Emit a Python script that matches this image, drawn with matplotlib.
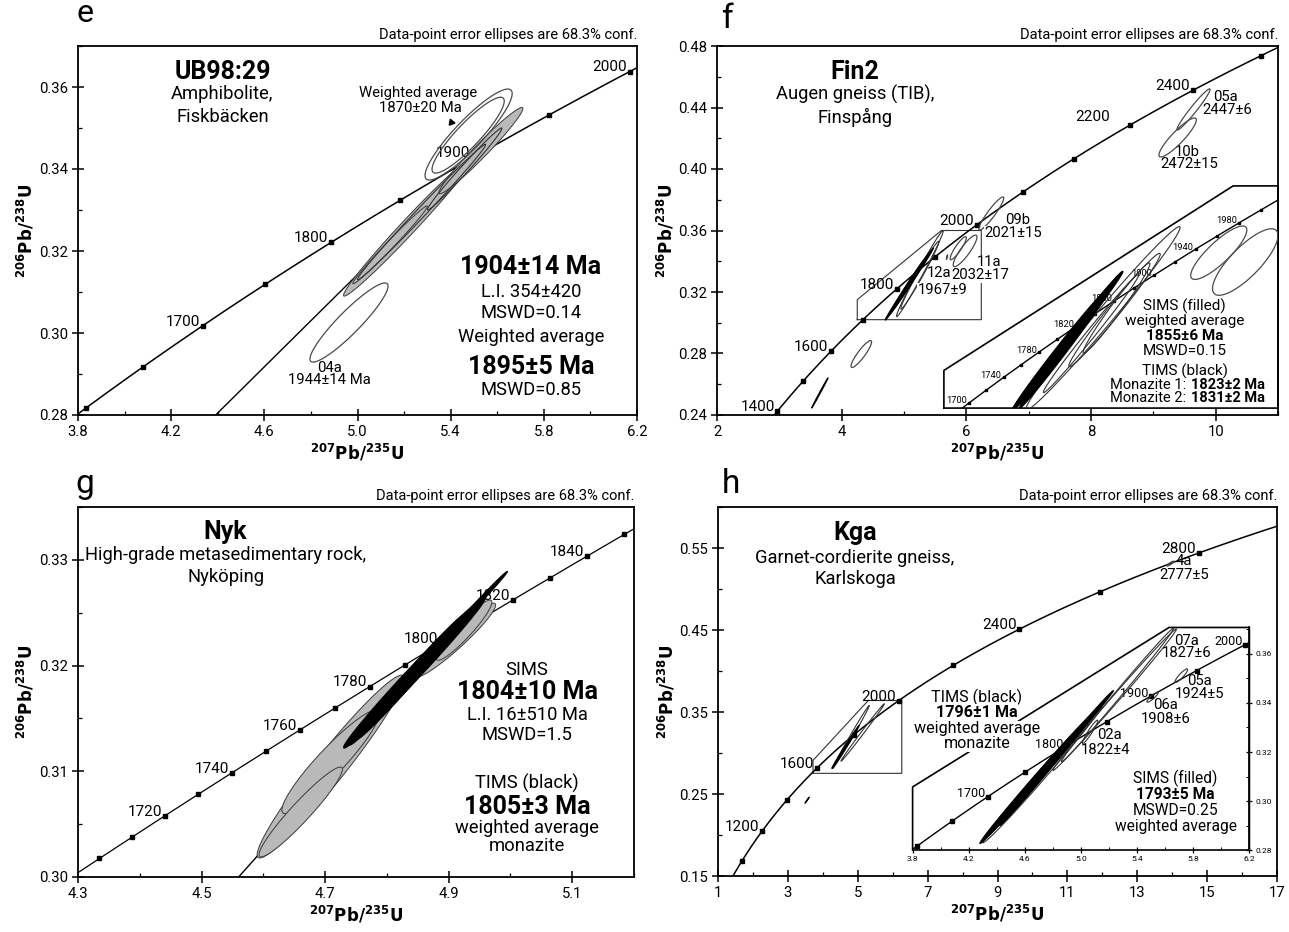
import numpy as np
import matplotlib
matplotlib.use('Agg')
import matplotlib.pyplot as plt
from matplotlib.ticker import MultipleLocator

plt.rcParams['font.family'] = ['Roboto', 'DejaVu Sans']
plt.rcParams['mathtext.fontset'] = 'dejavusans'

# decay constants (1/yr)
L235 = 9.8485e-10
L238 = 1.55125e-10

# ---- panel e : UB98:29 ----
e_marks = [1600, 1650, 1700, 1750, 1800, 1850, 1900, 1950, 2000]
e_labels = [1700, 1800, 1900, 2000]
e_grey = [(4.94, 5.50, 0.309, 0.343, 0.988), (5.35, 5.71, 0.334, 0.355, 0.975),
          (4.98, 5.30, 0.312, 0.331, 0.99)]
e_thin = [(5.00, 5.55, 0.313, 0.346, 0.995), (5.30, 5.62, 0.330, 0.350, 0.99)]
e_open = [(4.796, 5.131, 0.2929, 0.3122, 0.92), (5.29, 5.664, 0.3373, 0.3595, 0.90),
          (5.32, 5.63, 0.3390, 0.3575, 0.90)]
e_discordia = (354, 1904)

# ---- panel f : Fin2 ----
f_marks = [1400, 1500, 1600, 1700, 1800, 1900, 2000, 2100, 2200, 2300, 2400, 2500]
f_labels = [1400, 1600, 1800, 2000, 2400]
f_open = [(9.38, 9.91, 0.4254, 0.4521, 0.97), (9.09, 9.69, 0.4078, 0.4332, 0.90),
          (6.20, 6.60, 0.3603, 0.3818, 0.93), (5.74, 6.00, 0.341, 0.356, 0.90),
          (5.79, 6.17, 0.3365, 0.357, 0.88), (4.15, 4.48, 0.2709, 0.2884, 0.90),
          (5.68, 5.70, 0.3412, 0.3442, 0.90)]
f_black = [(4.70, 5.47, 0.3018, 0.3486, 0.997), (4.76, 5.40, 0.305, 0.345, 0.996),
           (4.82, 5.33, 0.309, 0.341, 0.995), (3.52, 3.78, 0.2446, 0.2641, 0.998)]
f_sims = [(4.88, 5.63, 0.304, 0.360, 0.99), (4.95, 5.56, 0.309, 0.353, 0.985)]
f_in_marks = [1700, 1720, 1740, 1760, 1780, 1800, 1820, 1840, 1860, 1880, 1900,
              1920, 1940, 1960, 1980, 2000]
f_in_labels = [1700, 1740, 1780, 1820, 1860, 1900, 1940, 1980]
f_in_black = [(4.60, 5.18, 0.299, 0.337, 0.995), (4.62, 5.30, 0.300, 0.344, 0.996),
              (4.65, 5.24, 0.300, 0.340, 0.995), (4.68, 5.13, 0.302, 0.333, 0.994)]
f_in_sims = [(4.69, 5.66, 0.2994, 0.3584, 0.99), (4.96, 5.535, 0.3133, 0.3498, 0.985),
             (5.05, 5.47, 0.3177, 0.3467, 0.98), (4.80, 5.40, 0.305, 0.343, 0.993)]
f_in_open = [(5.727, 6.08, 0.3414, 0.3586, 0.85), (5.864, 6.276, 0.3363, 0.3577, 0.80)]

# ---- panel g : Nyk ----
g_marks = [1700, 1710, 1720, 1730, 1740, 1750, 1760, 1770, 1780, 1790, 1800,
           1810, 1820, 1830, 1840, 1850]
g_labels = [1720, 1740, 1760, 1780, 1800, 1820, 1840]
g_grey = [(4.59, 4.828, 0.3018, 0.3191, 0.965), (4.63, 4.788, 0.306, 0.3158, 0.93),
          (4.593, 4.728, 0.3019, 0.3104, 0.95), (4.845, 4.976, 0.3189, 0.3259, 0.95),
          (4.88, 4.97, 0.3205, 0.3262, 0.93)]
g_black = [(4.73, 4.96, 0.3122, 0.3265, 0.992), (4.75, 4.93, 0.3130, 0.3250, 0.99),
           (4.90, 4.995, 0.3230, 0.3289, 0.996), (4.74, 4.95, 0.3125, 0.3260, 0.994)]
g_discordia = (16, 1804)

# ---- panel h : Kga ----
h_marks = [1000, 1200, 1400, 1600, 1800, 2000, 2200, 2400, 2600, 2800]
h_labels = [1200, 1600, 2000, 2400, 2800]
h_black = [(4.26, 5.04, 0.2813, 0.3336, 0.997), (4.40, 4.98, 0.290, 0.329, 0.997),
           (3.49, 3.61, 0.2388, 0.246, 0.995)]
h_sims = [(4.28, 5.33, 0.281, 0.358, 0.996), (4.52, 5.76, 0.290, 0.360, 0.997)]
h_open = [(13.85, 14.05, 0.528, 0.534, 0.90)]
h_in_marks = [1600, 1650, 1700, 1750, 1800, 1850, 1900, 1950, 2000]
h_in_labels = [1700, 1800, 1900, 2000]
h_in_black = [(4.28, 5.11, 0.2827, 0.337, 0.997), (4.35, 4.95, 0.287, 0.327, 0.997),
              (4.42, 5.05, 0.290, 0.333, 0.997), (4.60, 5.23, 0.303, 0.345, 0.998)]
h_in_sims = [(4.80, 5.68, 0.3125, 0.3702, 0.997), (4.86, 5.66, 0.316, 0.3705, 0.997),
             (4.30, 5.15, 0.283, 0.339, 0.995), (5.01, 5.12, 0.3235, 0.333, 0.95),
             (5.47, 5.55, 0.3403, 0.3444, 0.90), (5.67, 5.76, 0.3484, 0.3539, 0.90)]

CONF = 'Data-point error ellipses are 68.3% conf.'
XLAB = r'$^{\mathbf{207}}\mathbf{Pb/}^{\mathbf{235}}\mathbf{U}$'
YLAB = r'$^{\mathbf{206}}\mathbf{Pb/}^{\mathbf{238}}\mathbf{U}$'


def conc(t_ma):
    t = np.asarray(t_ma, float) * 1e6
    return np.exp(L235 * t) - 1, np.exp(L238 * t) - 1


def draw_ellipses(ax, items, **style):
    th = np.linspace(0, 2 * np.pi, 160)
    for x0, x1, y0, y1, rho in items:
        cx, cy = (x0 + x1) / 2, (y0 + y1) / 2
        dx, dy = (x1 - x0) / 2, (y1 - y0) / 2
        xs = cx + dx * np.cos(th)
        ys = cy + dy * (rho * np.cos(th) + np.sqrt(1 - rho ** 2) * np.sin(th))
        ax.fill(xs, ys, **style)


def draw_concordia(ax, t0, t1, marks, labels, ms=3.5, fs=11, lw=1.1, off=(-2, 3)):
    x, y = conc(np.linspace(t0, t1, 400))
    ax.plot(x, y, color='black', lw=lw, zorder=3)
    mx, my = conc(marks)
    ax.plot(mx, my, 's', color='black', ms=ms, zorder=4)
    for a in labels:
        lx, ly = conc(a)
        ax.annotate(str(a), (lx, ly), xytext=off, textcoords='offset points',
                    ha='right', va='center', fontsize=fs, zorder=5)


def discordia(ax, ages):
    x, y = conc(ages)
    ax.plot(x, y, color='black', lw=1.0, zorder=2)


def style_axes(ax, xt, yt, xmin, ymin, xlbl):
    ax.set_xticks(xt)
    ax.set_xticklabels(xlbl)
    ax.set_yticks(yt)
    ax.set_yticklabels(['%.2f' % v for v in yt])
    ax.xaxis.set_minor_locator(MultipleLocator(xmin))
    ax.yaxis.set_minor_locator(MultipleLocator(ymin))
    ax.tick_params(which='major', direction='inout', length=8, width=1.1, labelsize=10.7, pad=3)
    ax.tick_params(which='minor', direction='in', length=3, width=0.9)
    for s in ax.spines.values():
        s.set_linewidth(1.3)
    ax.set_xlabel(XLAB, fontsize=12, labelpad=2)
    ax.set_ylabel(YLAB, fontsize=12, labelpad=2)
    ax.text(1.0, 1.012, CONF, transform=ax.transAxes, ha='right', va='bottom', fontsize=10.5)


GREY = dict(fc='#b9b9b9', ec='#3a3a3a', lw=0.7, zorder=6)
BLACK = dict(fc='black', ec='black', lw=0.9, zorder=8)
THIN = dict(fc='none', ec='#333333', lw=0.8, zorder=7)
OPEN = dict(fc='none', ec='#4a4a4a', lw=0.9, zorder=6)
WB = dict(fc='white', ec='none', pad=0.2)
BIG = 18
MID = 13.2
SML = 10.7
SUB = 11

W, H = 1289, 932
fig = plt.figure(figsize=(W / 100, H / 100), dpi=100)

# ================= e =================
ax = fig.add_axes([78 / W, 1 - 415 / H, 559 / W, 369 / H])
ax.set_xlim(3.8, 6.2)
ax.set_ylim(0.28, 0.37)
style_axes(ax, [3.8, 4.2, 4.6, 5.0, 5.4, 5.8, 6.2], [0.28, 0.30, 0.32, 0.34, 0.36], 0.2, 0.01,
           ['3.8', '4.2', '4.6', '5.0', '5.4', '5.8', '6.2'])
draw_concordia(ax, 1500, 2100, e_marks, e_labels)
discordia(ax, e_discordia)
draw_ellipses(ax, e_grey, **GREY)
draw_ellipses(ax, e_thin, **THIN)
draw_ellipses(ax, e_open, **OPEN)
ax.plot([5.40], [0.3515], marker=(3, 0, 20), color='black', ms=5, zorder=9)
ax.text(4.42, 0.3637, 'UB98:29', fontsize=BIG, fontweight='bold', ha='center', va='center')
ax.text(4.42, 0.3583, 'Amphibolite,', fontsize=MID, ha='center', va='center')
ax.text(4.42, 0.3527, 'Fiskbäcken', fontsize=MID, ha='center', va='center')
ax.text(5.26, 0.3585, 'Weighted average', fontsize=SML, ha='center', va='center', zorder=10)
ax.text(5.27, 0.3550, '1870±20 Ma', fontsize=SML, ha='center', va='center', zorder=10)
ax.text(4.88, 0.2915, '04a', fontsize=SML, ha='center', va='center')
ax.text(4.88, 0.2885, '1944±14 Ma', fontsize=SML, ha='center', va='center')
for txt, yy, fs, fw in [('1904±14 Ma', 0.3161, BIG, 'bold'), ('L.I. 354±420', 0.3100, MID, 'normal'),
                        ('MSWD=0.14', 0.3049, MID, 'normal'), ('Weighted average', 0.2990, MID, 'normal'),
                        ('1895±5 Ma', 0.2917, BIG, 'bold'), ('MSWD=0.85', 0.2861, MID, 'normal')]:
    ax.text(5.745, yy, txt, fontsize=fs, fontweight=fw, ha='center', va='center')
fig.text(85 / W, 1 - 22 / H, 'e', fontsize=23, ha='center', va='baseline')

# ================= f =================
ax = fig.add_axes([717 / W, 1 - 415 / H, 561 / W, 369 / H])
ax.set_xlim(2, 11)
ax.set_ylim(0.24, 0.48)
style_axes(ax, [2, 4, 6, 8, 10], [0.24, 0.28, 0.32, 0.36, 0.40, 0.44, 0.48], 1, 0.02,
           ['2', '4', '6', '8', '10'])
draw_concordia(ax, 1300, 2600, f_marks, f_labels)
ax.text(8.02, 0.4338, '2200', fontsize=11, ha='center', va='center')
draw_ellipses(ax, f_sims, **THIN)
draw_ellipses(ax, f_black, **BLACK)
draw_ellipses(ax, f_open, **OPEN)
ax.plot([4.25, 4.25, 5.6, 6.24, 6.24, 4.25], [0.302, 0.315, 0.36, 0.36, 0.302, 0.302],
        color='#333333', lw=0.8, zorder=2)
ax.plot([5.64, 5.64, 10.28, 11, 11, 5.64], [0.2445, 0.269, 0.389, 0.389, 0.2445, 0.2445],
        color='black', lw=1.2, zorder=2, clip_on=False)
ax.text(4.21, 0.4628, 'Fin2', fontsize=BIG, fontweight='bold', ha='center', va='center')
ax.text(4.21, 0.4483, 'Augen gneiss (TIB),', fontsize=MID, ha='center', va='center')
ax.text(4.21, 0.4333, 'Finspång', fontsize=MID, ha='center', va='center')
for txt, xx, yy in [('05a', 10.15, 0.4468), ('2447±6', 10.18, 0.4384), ('10b', 9.55, 0.4110),
                    ('2472±15', 9.58, 0.4033), ('09b', 6.83, 0.3668)]:
    ax.text(xx, yy, txt, fontsize=SML, ha='center', va='center')
for txt, xx, yy in [('2021±15', 6.75, 0.3582), ('11a', 6.36, 0.3392), ('2032±17', 6.22, 0.3308),
                    ('1967±9', 5.62, 0.3213)]:
    ax.text(xx, yy, txt, fontsize=SML, ha='center', va='center', bbox=WB, zorder=9)
ax.text(5.57, 0.3322, '12a', fontsize=SML, ha='center', va='center', zorder=9)
for txt, yy, fw in [('SIMS (filled)', 0.3105, 'normal'), ('weighted average', 0.3010, 'normal'),
                    ('1855±6 Ma', 0.2912, 'bold'), ('MSWD=0.15', 0.2815, 'normal'),
                    ('TIMS (black)', 0.2685, 'normal')]:
    ax.text(9.5, yy, txt, fontsize=SUB, fontweight=fw, ha='center', va='center', zorder=9)
for pre, val, yy in [('Monazite 1:', '1823±2 Ma', 0.2595), ('Monazite 2:', '1831±2 Ma', 0.2510)]:
    ax.text(9.53, yy, pre, fontsize=10.5, ha='right', va='center', zorder=9)
    ax.text(9.60, yy, val, fontsize=10.5, fontweight='bold', ha='left', va='center', zorder=9)
ins = ax.inset_axes([5.64, 0.2445, 11 - 5.64, 0.389 - 0.2445], transform=ax.transData)
ins.set_xlim(4.174, 6.276)
ins.set_ylim(0.300, 0.3715)
ins.axis('off')
ins.patch.set_alpha(0)
draw_concordia(ins, 1650, 2050, f_in_marks, f_in_labels, ms=1.8, fs=6.7, lw=1.0, off=(-1.5, 1.5))
draw_ellipses(ins, f_in_sims, **THIN)
draw_ellipses(ins, f_in_black, **BLACK)
draw_ellipses(ins, f_in_open, **OPEN)
fig.text(727 / W, 1 - 28 / H, 'f', fontsize=24, ha='center', va='baseline')

# ================= g =================
ax = fig.add_axes([78 / W, 1 - 877 / H, 556 / W, 370 / H])
ax.set_xlim(4.3, 5.2)
ax.set_ylim(0.30, 0.335)
style_axes(ax, [4.3, 4.5, 4.7, 4.9, 5.1], [0.30, 0.31, 0.32, 0.33], 0.1, 0.005,
           ['4.3', '4.5', '4.7', '4.9', '5.1'])
draw_concordia(ax, 1650, 1900, g_marks, g_labels, lw=0.9)
discordia(ax, g_discordia)
draw_ellipses(ax, g_grey, **GREY)
draw_ellipses(ax, g_black, **BLACK)
ax.text(4.539, 0.3326, 'Nyk', fontsize=BIG, fontweight='bold', ha='center', va='center')
ax.text(4.539, 0.3305, 'High-grade metasedimentary rock,', fontsize=MID, ha='center', va='center')
ax.text(4.539, 0.3284, 'Nyköping', fontsize=MID, ha='center', va='center')
for txt, yy, fs, fw in [('SIMS', 0.3196, MID, 'normal'), ('1804±10 Ma', 0.3175, BIG, 'bold'),
                        ('L.I. 16±510 Ma', 0.3153, MID, 'normal'), ('MSWD=1.5', 0.3134, MID, 'normal'),
                        ('TIMS (black)', 0.3089, MID, 'normal'), ('1805±3 Ma', 0.3066, BIG, 'bold'),
                        ('weighted average', 0.3046, MID, 'normal'), ('monazite', 0.3029, MID, 'normal')]:
    ax.text(5.027, yy, txt, fontsize=fs, fontweight=fw, ha='center', va='center')
fig.text(85 / W, 1 - 493 / H, 'g', fontsize=24, ha='center', va='baseline')

# ================= h =================
ax = fig.add_axes([718 / W, 1 - 876 / H, 559 / W, 369 / H])
ax.set_xlim(1, 17)
ax.set_ylim(0.15, 0.6)
style_axes(ax, [1, 3, 5, 7, 9, 11, 13, 15, 17], [0.15, 0.25, 0.35, 0.45, 0.55], 1, 0.05,
           ['1', '3', '5', '7', '9', '11', '13', '15', '17'])
draw_concordia(ax, 800, 3100, h_marks, h_labels)
draw_ellipses(ax, h_sims, **THIN)
draw_ellipses(ax, h_black, **BLACK)
draw_ellipses(ax, h_open, **OPEN)
ax.plot([3.72, 3.72, 5.3, 6.26, 6.26, 3.72], [0.2752, 0.291, 0.364, 0.364, 0.2752, 0.2752],
        color='#333333', lw=0.8, zorder=2)
ax.plot([6.57, 6.57, 13.91, 16.21, 16.21], [0.1816, 0.2586, 0.4531, 0.4531, 0.1816],
        color='black', lw=1.2, zorder=2)
ax.text(4.92, 0.5686, 'Kga', fontsize=BIG, fontweight='bold', ha='center', va='center')
ax.text(4.92, 0.5382, 'Garnet-cordierite gneiss,', fontsize=MID, ha='center', va='center')
ax.text(4.92, 0.5119, 'Karlskoga', fontsize=MID, ha='center', va='center')
ax.text(14.34, 0.5342, '4a', fontsize=SML, ha='center', va='center')
ax.text(14.34, 0.5172, '2777±5', fontsize=SML, ha='center', va='center')
for txt, yy, fw in [('TIMS (black)', 0.3680, 'normal'), ('1796±1 Ma', 0.3497, 'bold'),
                    ('weighted average', 0.3296, 'normal'), ('monazite', 0.3113, 'normal')]:
    ax.text(8.41, yy, txt, fontsize=11.6, fontweight=fw, ha='center', va='center', bbox=WB, zorder=9)
for txt, xx, yy in [('07a', 14.41, 0.4370), ('1827±6', 14.41, 0.4215), ('05a', 14.79, 0.3883),
                    ('1924±5', 14.79, 0.3720), ('06a', 13.80, 0.3580), ('1908±6', 13.80, 0.3417),
                    ('02a', 12.20, 0.3214), ('1822±4', 12.10, 0.3040)]:
    ax.text(xx, yy, txt, fontsize=SML, ha='center', va='center', zorder=9)
for txt, yy, fw in [('SIMS (filled)', 0.2690, 'normal'), ('1793±5 Ma', 0.2498, 'bold'),
                    ('MSWD=0.25', 0.2302, 'normal'), ('weighted average', 0.2099, 'normal')]:
    ax.text(14.1, yy, txt, fontsize=11.2, fontweight=fw, ha='center', va='center', zorder=9)
ins = ax.inset_axes([6.57, 0.1816, 16.21 - 6.57, 0.4531 - 0.1816], transform=ax.transData)
ins.set_xlim(3.8, 6.2)
ins.set_ylim(0.28, 0.3708)
ins.patch.set_alpha(0)
for side in ['top', 'left']:
    ins.spines[side].set_visible(False)
for side in ['bottom', 'right']:
    ins.spines[side].set_linewidth(1.2)
ins.set_xticks([3.8, 4.2, 4.6, 5.0, 5.4, 5.8, 6.2])
ins.set_xticklabels(['3.8', '4.2', '4.6', '5.0', '5.4', '5.8', '6.2'])
ins.set_yticks([0.28, 0.30, 0.32, 0.34, 0.36])
ins.set_yticklabels(['0.28', '0.30', '0.32', '0.34', '0.36'])
ins.xaxis.set_minor_locator(MultipleLocator(0.2))
ins.yaxis.set_minor_locator(MultipleLocator(0.01))
ins.yaxis.tick_right()
ins.tick_params(which='major', direction='inout', length=5, width=0.9, labelsize=6, pad=2)
ins.tick_params(which='minor', direction='in', length=2, width=0.7)
draw_concordia(ins, 1550, 2050, h_in_marks, h_in_labels, ms=2.2, fs=9, lw=1.0, off=(-1.5, 2))
draw_ellipses(ins, h_in_sims, **THIN)
draw_ellipses(ins, h_in_black, **BLACK)
fig.text(731 / W, 1 - 493 / H, 'h', fontsize=24, ha='center', va='baseline')

fig.savefig('out.png', dpi=100)
